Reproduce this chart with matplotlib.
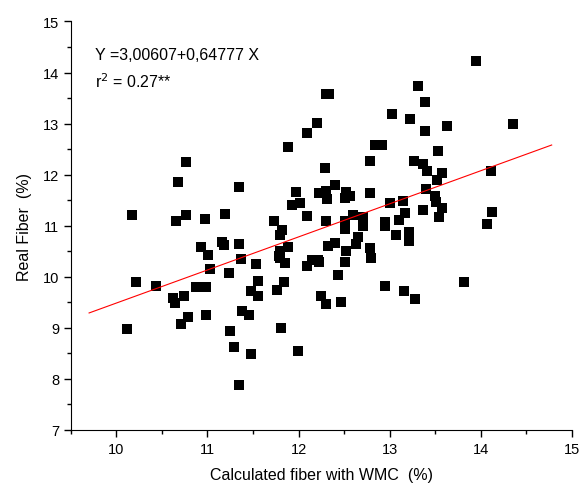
import numpy as np
import matplotlib.pyplot as plt
from matplotlib.ticker import MultipleLocator

plt.rcParams['font.family'] = ['Liberation Sans', 'DejaVu Sans']

# calculated fiber with WMC (%)
calc_fiber = [13.95, 13.31, 12.30, 12.33, 13.39, 13.03, 13.22, 12.20, 13.63, 14.35,
              12.09, 13.39, 11.88, 12.84, 12.92, 13.53, 10.76, 12.78, 13.27, 13.37,
              12.29, 13.41, 13.58, 14.11, 13.52, 10.68, 11.35, 12.40, 13.40, 11.97,
              12.23, 12.30, 12.31, 12.52, 12.56, 12.51, 12.79, 13.50, 13.51, 12.02,
              11.93, 13.00, 13.15, 13.58, 13.37, 14.12, 10.17, 10.76, 11.19, 10.97,
              10.65, 11.73, 12.09, 12.60, 12.71, 12.71, 12.30, 12.51, 12.51, 12.95,
              12.95, 13.17, 13.10, 13.54, 14.07, 11.82, 11.80, 13.21, 13.07, 13.21,
              12.65, 12.63, 11.16, 11.18, 11.35, 10.93, 11.88, 12.40, 12.32, 12.78,
              12.52, 11.80, 11.79, 11.80, 11.01, 11.37, 11.85, 11.53, 12.15, 12.21,
              12.23, 12.09, 12.51, 12.80, 11.03, 11.24, 12.43, 10.21, 11.84, 11.55,
              10.44, 10.87, 10.98, 13.82, 12.95, 10.62, 10.64, 10.74, 11.48, 11.56,
              11.76, 12.25, 12.30, 12.47, 13.16, 13.28, 11.38, 11.46, 10.79, 10.98,
              10.71, 10.12, 11.25, 11.81, 11.29, 11.99, 11.48, 11.35]

# real fiber (%)
real_fiber = [14.22, 13.73, 13.58, 13.58, 13.42, 13.18, 13.08, 13.02, 12.96, 13.00,
              12.82, 12.86, 12.54, 12.58, 12.58, 12.46, 12.24, 12.27, 12.27, 12.20,
              12.12, 12.07, 12.04, 12.07, 11.89, 11.86, 11.76, 11.80, 11.71, 11.66,
              11.63, 11.68, 11.52, 11.66, 11.59, 11.54, 11.63, 11.58, 11.46, 11.45,
              11.41, 11.44, 11.48, 11.34, 11.31, 11.26, 11.21, 11.20, 11.23, 11.14,
              11.09, 11.10, 11.18, 11.21, 11.16, 11.00, 11.10, 11.10, 10.93, 11.08,
              11.00, 11.24, 11.12, 11.16, 11.04, 10.92, 10.82, 10.87, 10.82, 10.69,
              10.78, 10.65, 10.67, 10.62, 10.65, 10.58, 10.59, 10.66, 10.61, 10.56,
              10.50, 10.50, 10.41, 10.37, 10.43, 10.35, 10.27, 10.24, 10.33, 10.33,
              10.28, 10.20, 10.28, 10.36, 10.15, 10.07, 10.04, 9.89, 9.90, 9.92,
              9.81, 9.79, 9.80, 9.90, 9.82, 9.58, 9.48, 9.63, 9.71, 9.62,
              9.73, 9.63, 9.46, 9.50, 9.72, 9.56, 9.32, 9.25, 9.22, 9.25,
              9.08, 8.97, 8.94, 9.00, 8.62, 8.54, 8.49, 7.88]

# fitted line
intercept = 3.00607
slope = 0.64777
fit_range = [9.7, 14.78]

fig = plt.figure(figsize=(5.81, 4.89), dpi=100)
ax = fig.add_axes([0.122, 0.119, 0.862, 0.835])

ax.plot(calc_fiber, real_fiber, 's', color='black', markersize=6.5, markeredgewidth=0)
xs = np.array(fit_range)
ax.plot(xs, intercept + slope * xs, color='red', linewidth=0.8)

ax.set_xlim(9.5, 15)
ax.set_ylim(7, 15)
ax.xaxis.set_major_locator(MultipleLocator(1))
ax.xaxis.set_minor_locator(MultipleLocator(0.5))
ax.yaxis.set_major_locator(MultipleLocator(1))
ax.yaxis.set_minor_locator(MultipleLocator(0.5))
ax.tick_params(which='major', direction='out', length=5, width=1, labelsize=10.5)
ax.tick_params(which='minor', direction='out', length=3, width=1)
ax.spines['top'].set_visible(False)
ax.spines['right'].set_visible(False)

ax.set_xlabel('Calculated fiber with WMC  (%)', fontsize=11.5, labelpad=8)
ax.set_ylabel('Real Fiber  (%)', fontsize=11.5, labelpad=8)

ax.text(9.77, 14.35, 'Y =3,00607+0,64777 X', fontsize=11.5, va='center')
ax.text(9.77, 13.85, r'r$^2$ = 0.27**', fontsize=11.5, va='center')

plt.savefig('out.png', dpi=100)
